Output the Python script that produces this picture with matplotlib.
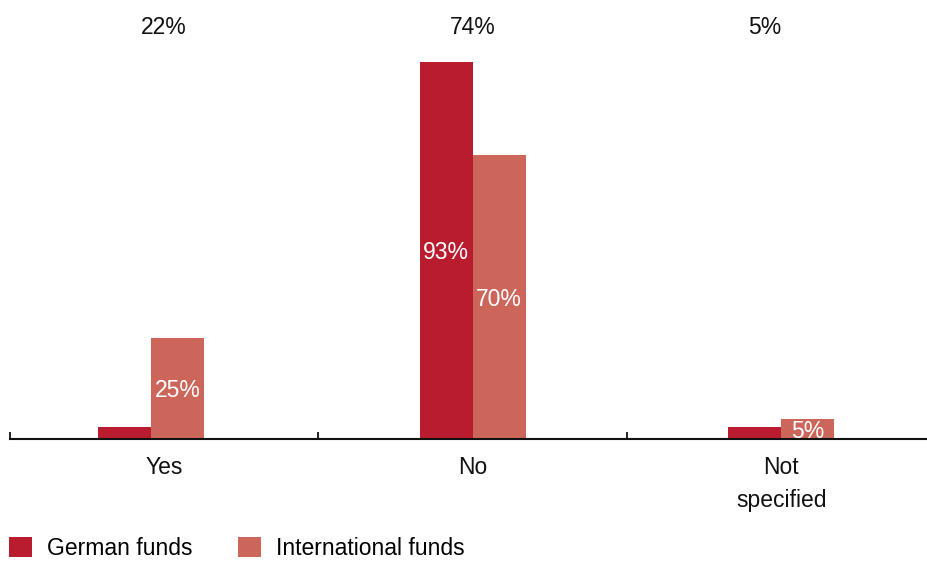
import matplotlib
matplotlib.use("Agg")
import matplotlib.pyplot as plt
from matplotlib.patches import Patch
import numpy as np

plt.rcParams['font.family'] = ['Liberation Sans', 'DejaVu Sans']

categories = ["Yes", "No", "Not\nspecified"]
german = [3, 93, 3]
international = [25, 70, 5]
totals = ["22%", "74%", "5%"]
series_names = ["German funds", "International funds"]

c_german = "#B91C2F"
c_intl = "#CC665A"
fs = 16.5

W, H = 927, 561
fig = plt.figure(figsize=(W / 100, H / 100), dpi=100)

# axes geometry in pixels
x0_px, cat_px = 10, 308.5
base_px, px_per_pct = 439, 4.054
ax = fig.add_axes([x0_px / W, (H - base_px) / H, 3 * cat_px / W, 100 * px_per_pct / H])

x = np.arange(len(categories))
group_shift = np.array([-0.042, 0.0, 0.0])
bw = 0.172
xg = x + group_shift - bw / 2
xi_ = x + group_shift + bw / 2
bars_g = ax.bar(xg, german, width=bw, color=c_german, linewidth=0)
bars_i = ax.bar(xi_, international, width=bw, color=c_intl, linewidth=0)

# value labels inside bars (hidden for very small bars)
for bars, vals in ((bars_g, german), (bars_i, international)):
    for b, v in zip(bars, vals):
        if v >= 5:
            ax.text(b.get_x() + b.get_width() / 2, v / 2, f"{v}%", ha="center",
                    va="center_baseline", color="white", fontsize=fs)

# totals above each category
offsets = [0, 0, -0.053]
for xi, t, off in zip(x, totals, offsets):
    ax.text(xi + off, 1.016, t, transform=ax.get_xaxis_transform(), ha="center",
            va="center", fontsize=fs, color="#111111", clip_on=False)

ax.set_xlim(-0.5, 2.5)
ax.set_ylim(0, 100)
for s in ("top", "right", "left"):
    ax.spines[s].set_visible(False)
ax.spines["bottom"].set_linewidth(1.5)
ax.spines["bottom"].set_color("#111111")
ax.set_yticks([])

ax.set_xticks(x)
ax.set_xticklabels(categories, fontsize=fs, color="#111111", linespacing=1.55)
ax.tick_params(axis="x", which="major", length=0, pad=12)
ax.set_xticks([-0.5, 0.5, 1.5, 2.5], minor=True)
ax.tick_params(axis="x", which="minor", direction="in", length=5, width=1.3,
               color="#111111")

handles = [Patch(facecolor=c_german, edgecolor="none"),
           Patch(facecolor=c_intl, edgecolor="none")]
fig.legend(handles, series_names, loc="lower left",
           bbox_to_anchor=(9 / W, 1 / H), frameon=False, ncol=2,
           fontsize=fs, handlelength=1.0, handleheight=1.0,
           handletextpad=0.65, columnspacing=2.0, borderaxespad=0,
           borderpad=0)

fig.savefig("out.png", dpi=100)
